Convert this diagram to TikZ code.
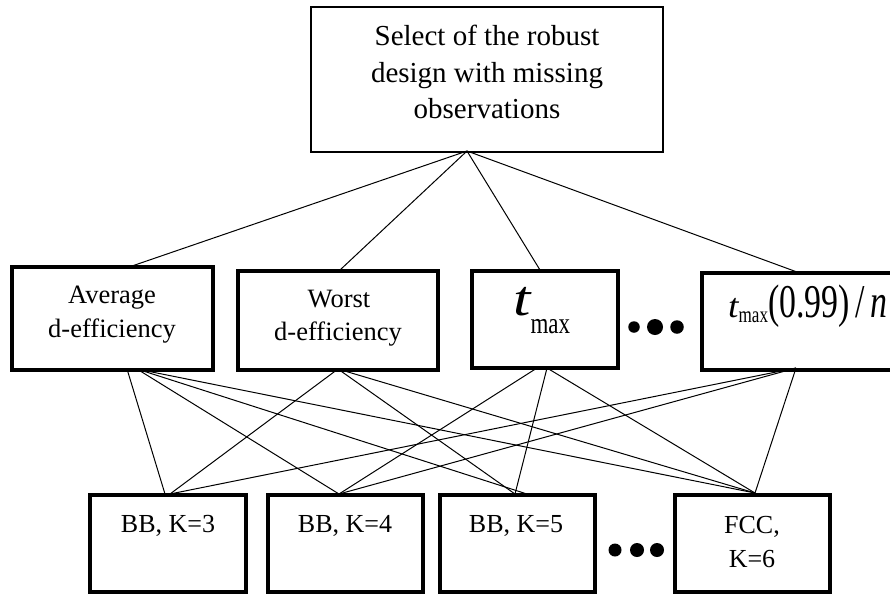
\documentclass[tikz,border=0pt]{standalone}
\usepackage{fontspec}
\setmainfont{Liberation Serif}
\newcommand\fsz[1]{\fontsize{#1}{#1}\selectfont}
\begin{document}
\begin{tikzpicture}[x=1pt,y=-1pt,
  box/.style={draw, line width=3.4pt, inner sep=0pt},
  topbox/.style={draw, line width=2.4pt, inner sep=0pt},
  txt/.style={inner sep=0pt, anchor=base},
  dot/.style={circle, fill=black, inner sep=0pt},
  link/.style={line width=1pt}]
\fill[white] (0,0) rectangle (890,595);
\useasboundingbox (0,0) rectangle (890,595);

% top box
\node[topbox, minimum width=352pt, minimum height=145pt] (top) at (487,79.5) {};
\node[txt, font=\fsz{29}] (tl1) at (487,45) {Select of the robust};
\node[txt, font=\fsz{29}] (tl2) at (487,82) {design with missing};
\node[txt, font=\fsz{29}] (tl3) at (487,118) {observations};

% middle row
\node[box, minimum width=201pt, minimum height=103pt] (m1) at (112.5,318.5) {};
\node[txt, font=\fsz{26.5}] (m1l1) at (112,303) {Average};
\node[txt, font=\fsz{26.5}] (m1l2) at (112,337) {d-efficiency};

\node[box, minimum width=200pt, minimum height=99pt] (m2) at (338,320.5) {};
\node[txt, font=\fsz{26.5}] (m2l1) at (339,307) {Worst};
\node[txt, font=\fsz{26.5}] (m2l2) at (338,340) {d-efficiency};

\node[box, minimum width=146pt, minimum height=97pt] (m3) at (545,319.5) {};
\node[txt, anchor=base west] (m3l) at (513,315) {\scalebox{1.25}[1]{\fsz{50}\itshape t}\raisebox{-18pt}{\scalebox{1}[1.3]{\fsz{23}max}}};

\node[dot, minimum size=11.5pt] (md1) at (634,327) {};
\node[dot, minimum size=16pt] (md2) at (655,327) {};
\node[dot, minimum size=13.5pt] (md3) at (677,327) {};

\node[box, minimum width=240pt, minimum height=97pt] (m4) at (822,321.5) {};
\node[txt, anchor=base west] (m4l) at (728,317) {\scalebox{1.1}[1]{\fsz{34}\itshape t}\raisebox{-5pt}{\scalebox{0.9}[1.2]{\fsz{19}max}}\scalebox{0.72}[1]{\fsz{47}(0.99)\,/\,\itshape n}};

% bottom row
\node[box, minimum width=156pt, minimum height=97pt] (b1) at (168,543.5) {};
\node[txt, font=\fsz{26}] (b1l) at (168,532) {BB, K=3};
\node[box, minimum width=155pt, minimum height=97pt] (b2) at (345.5,543.5) {};
\node[txt, font=\fsz{26}] (b2l) at (345,532) {BB, K=4};
\node[box, minimum width=155pt, minimum height=97pt] (b3) at (517.5,543.5) {};
\node[txt, font=\fsz{26}] (b3l) at (516,532) {BB, K=5};
\node[dot, minimum size=13pt] (bd1) at (615,550) {};
\node[dot, minimum size=14pt] (bd2) at (637,550) {};
\node[dot, minimum size=14pt] (bd3) at (657,550) {};
\node[box, minimum width=155pt, minimum height=97pt] (b4) at (752.5,543.5) {};
\node[txt, font=\fsz{26}] (b4l1) at (752,533) {FCC,};
\node[txt, font=\fsz{26}] (b4l2) at (752,567) {K=6};

% connection points
\coordinate (ta) at (467,151);
\coordinate (m1t) at (132,266);
\coordinate (m2t) at (340,270);
\coordinate (m3t) at (540,270);
\coordinate (m4t) at (797,272);
\coordinate (m1a) at (127,369);
\coordinate (m1b) at (137,369);
\coordinate (m2b) at (338,369);
\coordinate (m3a) at (537,368);
\coordinate (m3b) at (547,368);
\coordinate (m4b) at (796,368);
\coordinate (b1a) at (165,494);
\coordinate (b1b) at (170,494);
\coordinate (b2t) at (339,494);
\coordinate (b3a) at (515,494);
\coordinate (b3b) at (527,494);
\coordinate (b4t) at (755,493);

\draw[link] (ta) -- (m1t);
\draw[link] (ta) -- (m2t);
\draw[link] (ta) -- (m3t);
\draw[link] (ta) -- (m4t);

\draw[link] (m1a) -- (b1a);
\draw[link] (m1b) -- (b2t);
\draw[link] (m1b) -- (b3b);
\draw[link] (m1b) -- (b4t);
\draw[link] (m2b) -- (b1b);
\draw[link] (m2b) -- (b3a);
\draw[link] (m2b) -- (b4t);
\draw[link] (m3a) -- (b2t);
\draw[link] (m3b) -- (b3a);
\draw[link] (m3b) -- (b4t);
\draw[link] (m4b) -- (b1b);
\draw[link] (m4b) -- (b2t);
\draw[link] (m4b) -- (b4t);
\end{tikzpicture}
\end{document}
